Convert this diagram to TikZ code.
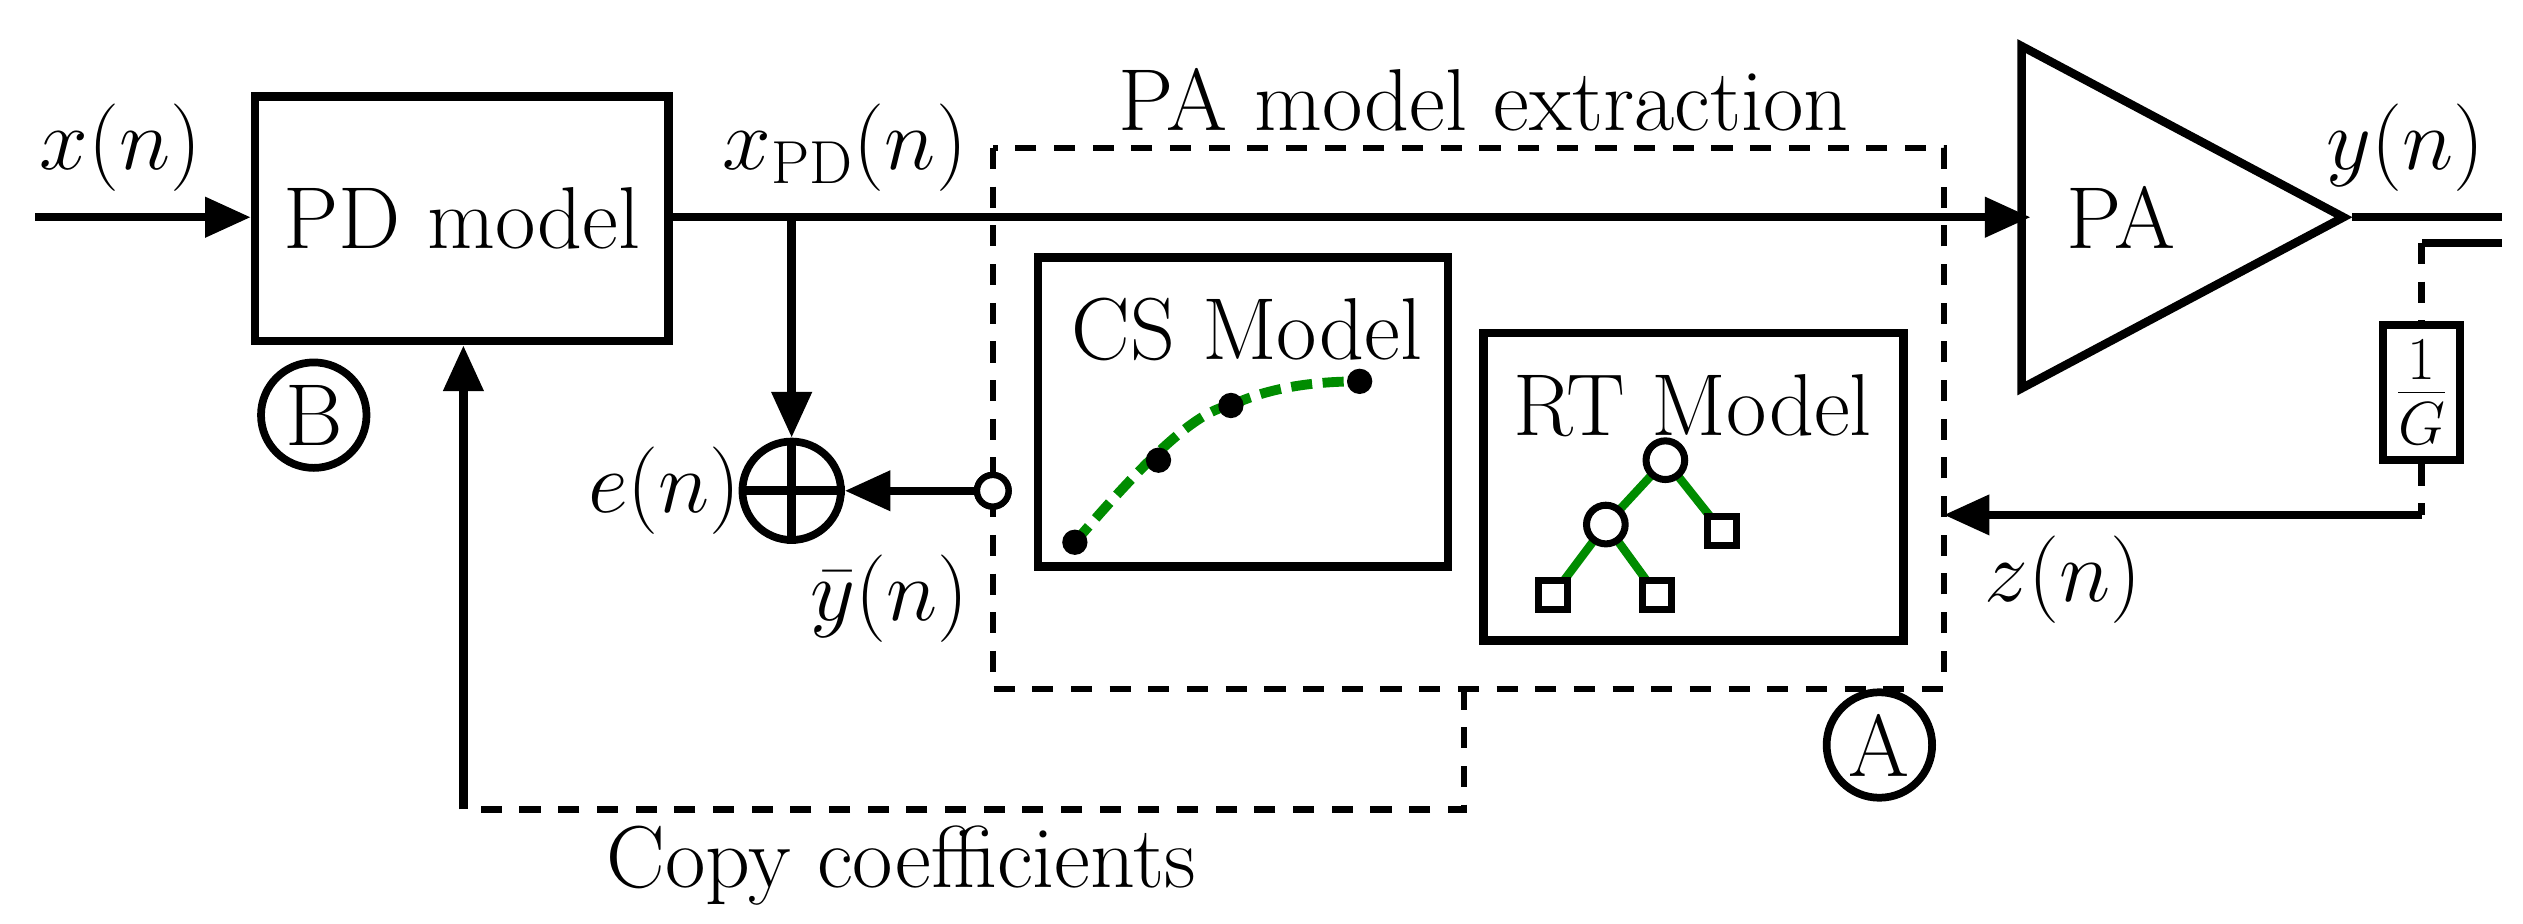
\documentclass[tikz,border=0pt]{standalone}
\usetikzlibrary{arrows.meta,shapes.geometric}
\begin{document}
\begin{tikzpicture}[x=0.01609cm,y=-0.01609cm,line width=2.4pt,
  font=\fontsize{25}{30}\selectfont,
  >={Triangle[length=13pt,width=11pt]},
  blk/.style={draw,line width=2.4pt,inner sep=0pt},
  lbl/.style={inner sep=1pt},
  dsh/.style={dash pattern=on 6pt off 5pt,line width=1.8pt},
  circ/.style={draw,circle,line width=2.2pt,inner sep=0pt,minimum size=30pt}]
\useasboundingbox (0,0) rectangle (1568,574);
% PD model
\node[blk,minimum width=257*0.01609cm,minimum height=152*0.01609cm] (pd) at (287,136) {PD model};
\coordinate (in) at (22,135);
\draw[->] (in) -- (in -| pd.west);
\node[lbl] (xn) at (75,92) {$x(n)$};
\node[circ] (B) at (195,258) {B};
% PA
\node[blk,isosceles triangle,isosceles triangle apex angle=56,minimum height=200*0.01609cm,anchor=apex] (pa) at (1462,135) {};
\node[lbl] (patxt) at (1318,135) {PA};
\draw[->] (pd.east |- 0,135) coordinate (pdo) -- (1262,135) coordinate (pai);
\node[lbl] (xpd) at (525,92) {$x_{\mathrm{PD}}(n)$};
\node[lbl] (yn) at (1495,92) {$y(n)$};
\coordinate (out) at (1555,135);
\draw (pa.apex) -- (out);
% sum
\node[circ,minimum size=28pt] (sum) at (492,305) {};
\draw[line width=2.6pt] (sum.west)--(sum.east) (sum.north)--(sum.south);
\coordinate (br) at (492,135);
\draw[->] (br) -- (sum.north);
\node[lbl] (en) at (413,305) {$e(n)$};
\node[draw,circle,line width=1.8pt,inner sep=0pt,minimum size=9pt,fill=white] (yo) at (617,305) {};
\draw[->] (yo.west) -- (sum.east);
\node[lbl] (ybar) at (553,372) {$\bar{y}(n)$};
% dashed extraction box
\draw[dsh] (617,92) rectangle (1208,428);
\node[lbl] (ext) at (922,62) {PA model extraction};
\node[draw,circle,line width=1.8pt,inner sep=0pt,minimum size=9pt,fill=white] at (617,305) {};
% CS model
\draw (645,160) rectangle (900,352);
\node[lbl] (cs) at (775,205) {CS Model};
\draw[green!55!black,line width=2.8pt,dash pattern=on 6pt off 3pt] (668,337) .. controls (700,300) and (740,255) .. (765,252);
\draw[green!55!black,line width=2.8pt,dash pattern=on 6pt off 3pt] (765,252) .. controls (790,240) and (820,237) .. (845,237);
\foreach \p/\n in {668/337,720/286,765/252,845/237}{\fill (\p,\n) circle (3.6pt);}
% RT model
\draw (922,207) rectangle (1183,398);
\node[lbl] (rt) at (1052,252) {RT Model};
\begin{scope}[green!55!black,line width=2.4pt]
\draw (1035,286) -- (998,326) -- (965,370);
\draw (998,326) -- (1030,370);
\draw (1035,286) -- (1070,330);
\end{scope}
\foreach \p/\n in {1035/286,998/326}{\draw[fill=white,line width=2pt] (\p,\n) circle (5.5pt);}
\foreach \p/\n in {965/370,1030/370,1070/330}{\draw[fill=white,line width=2pt] (\p-9,\n-9) rectangle (\p+9,\n+9);}
% feedback
\node[blk,minimum width=48*0.01609cm,minimum height=84*0.01609cm] (g) at (1505,244) {$\frac{1}{G}$};
\coordinate (tap) at (1555,151);
\coordinate (tapc) at (1505,151);
\draw (tap) -- (tapc);
\draw[dsh] (tapc) -- (g.north);
\coordinate (gc) at (1505,320);
\draw[dsh] (g.south) -- (gc);
\coordinate (zin) at (1208,320);
\draw[->] (gc) -- (zin);
\node[lbl] (zn) at (1282,360) {$z(n)$};
\node[circ] (A) at (1168,463) {A};
% copy coefficients
\coordinate (c1) at (910,428);
\coordinate (c2) at (910,503);
\coordinate (c3) at (288,503);
\draw[dsh] (c1) -- (c2) -- (c3);
\draw[->] (c3) -- (c3 |- pd.south);
\node[lbl] (cc) at (560,538) {Copy coefficients};
\end{tikzpicture}
\end{document}
